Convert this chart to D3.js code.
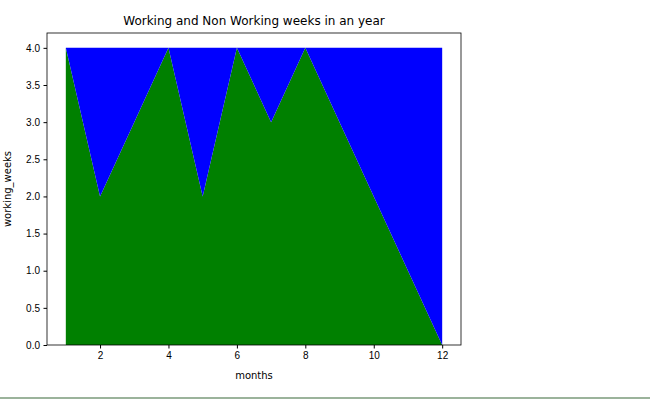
<!DOCTYPE html>
<html><head><meta charset="utf-8">
<script src="https://cdn.jsdelivr.net/npm/d3@7"></script>
<style>body{margin:0;background:#fff}svg{font-family:"DejaVu Sans",sans-serif}</style>
</head><body><svg width="650" height="400"></svg>
<script>
const months=[1,2,3,4,5,6,7,8,9,10,11,12];
const working=[4,2,3,4,2,4,3,4,3,2,1,0];
const nonWorking=[0,2,1,0,2,0,1,0,1,2,3,4];
const xTicks=[2,4,6,8,10,12];
const yTicks=[0,0.5,1,1.5,2,2.5,3,3.5,4];
const colors=["green","blue"];

const svg=d3.select("svg");
svg.append("line").attr("x1",0).attr("x2",650).attr("y1",398).attr("y2",398).attr("stroke","#7a9a7a").attr("stroke-width",1.5);
const L=47,R=461,T=33,B=345;
const x=d3.scaleLinear().domain([0.45,12.55]).range([L,R]);
const y=d3.scaleLinear().domain([0,4.2]).range([B,T]);
const data=months.map((m,i)=>({m,w:working[i],n:nonWorking[i]}));
const stack=d3.stack().keys(["w","n"])(data);
const area=d3.area().x(d=>x(d.data.m)).y0(d=>y(d[0])).y1(d=>y(d[1]));
svg.selectAll("path.a").data(stack).join("path").attr("d",area).attr("fill",(d,i)=>colors[i]);
const gx=svg.append("g").attr("transform",`translate(0,${B})`).call(d3.axisBottom(x).tickValues(xTicks).tickSize(3.5).tickPadding(3.5));
const gy=svg.append("g").attr("transform",`translate(${L},0)`).call(d3.axisLeft(y).tickValues(yTicks).tickFormat(d3.format(".1f")).tickSize(3.5).tickPadding(3.5));
[gx,gy].forEach(g=>{g.select(".domain").remove();g.selectAll("text").attr("font-size",10).attr("fill","#000");});
svg.append("rect").attr("x",L).attr("y",T).attr("width",R-L).attr("height",B-T).attr("fill","none").attr("stroke","#000").attr("stroke-width",0.8);
svg.append("text").attr("x",(L+R)/2).attr("y",25).attr("text-anchor","middle").attr("font-size",12).text("Working and Non Working weeks in an year");
svg.append("text").attr("x",(L+R)/2).attr("y",379).attr("text-anchor","middle").attr("font-size",10).text("months");
svg.append("text").attr("transform",`translate(11,${(T+B)/2}) rotate(-90)`).attr("text-anchor","middle").attr("font-size",10).text("working_weeks");
</script></body></html>
